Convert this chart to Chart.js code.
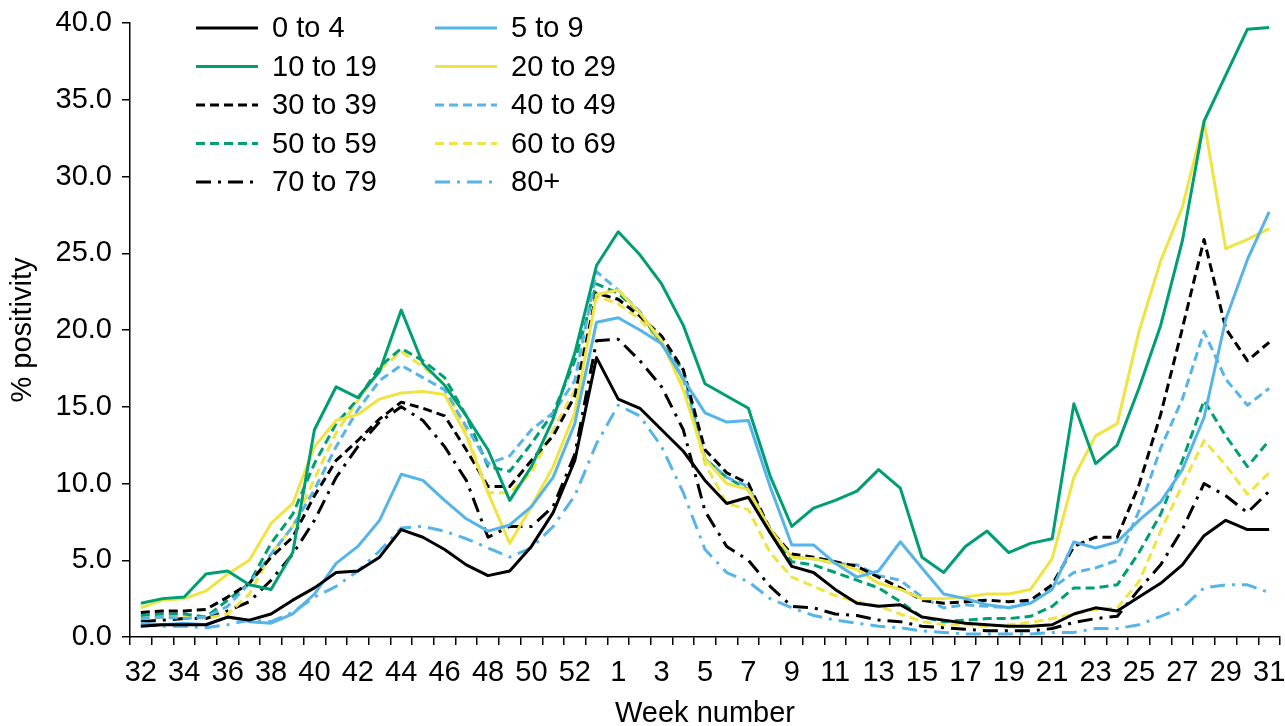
<!DOCTYPE html>
<html>
<head>
<meta charset="utf-8">
<script src="https://cdn.jsdelivr.net/npm/chart.js@4"></script>
<style>
  body { margin: 0; background: #fff; }
</style>
</head>
<body>
<canvas id="myChart" width="1285" height="726"></canvas>
<script>
// week numbers: 32..53 then 1..31
const weeks = ['32','33','34','35','36','37','38','39','40','41','42','43','44','45','46','47','48','49','50','51','52','53',
  '1','2','3','4','5','6','7','8','9','10','11','12','13','14','15','16','17','18','19','20','21','22','23','24','25','26','27','28','29','30','31'];

const age0to4 = [0.7,0.8,0.8,0.8,1.3,1.1,1.5,2.4,3.2,4.2,4.3,5.2,7.0,6.5,5.7,4.7,4.0,4.3,5.9,8.1,11.5,18.2,
  15.5,14.9,13.5,12.1,10.2,8.7,9.1,6.8,4.6,4.2,3.1,2.2,2.0,2.1,1.3,1.1,0.9,0.8,0.7,0.7,0.8,1.5,1.9,1.7,2.6,3.5,4.7,6.6,7.6,7.0,7.0];
const age5to9 = [0.9,0.8,0.9,0.8,1.3,1.0,0.9,1.5,2.8,4.8,5.9,7.6,10.6,10.2,8.9,7.7,6.9,7.3,8.5,10.4,13.9,20.5,
  20.8,20.0,19.1,16.8,14.6,14.0,14.1,9.8,6.0,6.0,4.8,3.9,4.3,6.2,4.5,2.8,2.5,2.1,1.9,2.2,3.1,6.2,5.8,6.2,7.6,8.8,10.9,14.3,20.7,24.6,27.7];
const age10to19 = [2.2,2.5,2.6,4.1,4.3,3.4,3.1,5.5,13.5,16.3,15.6,17.3,21.3,17.8,16.4,14.4,12.2,8.9,11.1,14.2,18.5,24.2,
  26.4,24.9,23.0,20.3,16.5,15.7,14.9,10.5,7.2,8.4,8.9,9.5,10.9,9.7,5.2,4.2,5.9,6.9,5.5,6.1,6.4,15.2,11.3,12.5,16.2,20.3,25.8,33.6,36.6,39.6,39.7];
const age20to29 = [1.9,2.4,2.5,3.0,4.1,5.0,7.4,8.7,12.4,14.1,14.5,15.5,15.9,16.0,15.8,13.1,9.4,6.1,8.5,11.1,14.6,22.3,
  22.6,21.1,19.3,16.1,11.6,10.0,9.6,7.0,5.2,5.1,4.8,4.4,3.5,3.1,2.5,2.5,2.6,2.8,2.8,3.1,5.1,10.4,13.1,13.9,19.9,24.5,28.0,33.6,25.3,25.9,26.6];
const age30to39 = [1.6,1.7,1.7,1.8,2.6,3.5,5.2,6.5,9.2,11.5,12.8,14.2,15.3,14.9,14.4,12.2,9.8,9.8,11.5,13.1,15.7,22.4,
  22.0,20.9,19.6,17.4,12.2,10.7,10.0,7.0,5.4,5.2,4.9,4.6,3.9,3.2,2.4,2.2,2.3,2.4,2.3,2.4,3.4,5.9,6.5,6.5,9.9,14.5,20.1,25.9,20.1,18.0,19.2];
const age40to49 = [1.2,1.3,1.2,1.3,2.0,3.5,5.4,7.2,9.6,12.4,14.8,16.7,17.7,16.9,16.1,13.7,11.3,11.8,13.5,14.6,16.7,23.8,
  22.6,21.2,19.1,16.9,11.6,10.4,9.8,7.0,5.2,5.1,4.8,4.7,4.0,3.7,2.6,1.9,2.1,2.0,1.9,2.3,3.2,4.2,4.5,5.0,8.2,12.3,15.5,19.9,16.8,15.1,16.2];
const age50to59 = [1.4,1.5,1.5,1.3,2.4,3.5,6.1,8.0,11.3,13.9,15.5,17.6,18.8,18.0,16.9,14.4,11.1,10.8,12.6,14.6,18.0,23.0,
  22.4,21.1,19.1,17.4,11.6,10.4,9.6,7.0,4.9,4.7,4.2,3.7,3.2,2.3,1.3,1.0,1.1,1.2,1.2,1.35,2.0,3.2,3.2,3.4,5.5,8.0,11.5,15.4,13.1,11.1,12.8];
const age60to69 = [1.2,1.3,1.3,1.2,1.5,2.8,5.4,7.2,10.3,13.3,15.4,17.4,18.6,17.6,16.5,13.3,9.4,9.4,10.7,13.5,16.1,22.2,
  21.7,20.7,19.1,16.5,11.3,8.7,8.3,5.5,3.9,3.3,2.7,2.3,2.0,1.5,1.0,0.8,0.8,0.7,0.8,0.95,1.2,1.5,1.8,1.9,3.6,6.9,9.9,12.8,11.2,9.3,10.7];
const age70to79 = [1.0,1.1,1.2,1.2,1.7,2.3,3.7,5.4,7.6,10.4,12.4,14.0,15.0,14.1,12.4,10.2,6.5,7.2,7.2,8.5,11.9,19.3,
  19.4,18.0,16.3,13.5,8.2,5.9,5.0,3.3,2.0,1.9,1.5,1.4,1.1,1.0,0.7,0.6,0.5,0.4,0.4,0.4,0.55,0.95,1.2,1.35,3.1,4.7,7.0,10.0,9.2,8.1,9.5];
const age80plus = [0.8,0.7,0.7,0.6,0.8,1.1,1.0,1.6,2.6,3.3,4.3,5.6,7.1,7.2,6.9,6.4,5.8,5.2,5.8,7.2,9.2,12.6,
  15.1,14.4,12.4,9.4,5.7,4.2,3.6,2.5,1.9,1.4,1.1,0.9,0.7,0.6,0.4,0.3,0.2,0.2,0.2,0.2,0.3,0.3,0.55,0.55,0.8,1.35,1.9,3.2,3.4,3.4,2.9];

const FONT = 'Arial, "Liberation Sans", sans-serif';
const SIZE = 29;
const BLACK = '#000000', BLUE = '#56B4E9', GREEN = '#009E73', YELLOW = '#F0E442';
const DASH = [9, 5];
const DASHDOT = [15, 7, 3, 7];

function line(label, data, color, dash) {
  return {
    label: label,
    data: data,
    borderColor: color,
    backgroundColor: color,
    borderWidth: 3,
    borderDash: dash,
    pointRadius: 0,
    tension: 0,
    fill: false,
    borderJoinStyle: 'round'
  };
}

// legend drawn inside the plot, 2 columns like the original
const insideLegend = {
  id: 'insideLegend',
  afterDraw(chart) {
    const ctx = chart.ctx;
    chart.data.datasets.forEach(function(ds, i) {
      const col = i % 2;
      const row = Math.floor(i / 2);
      const x = 196 + col * 239;
      const y = 28 + row * 38.5;
      ctx.save();
      ctx.strokeStyle = ds.borderColor;
      ctx.lineWidth = 3;
      ctx.setLineDash(ds.borderDash);
      ctx.beginPath();
      ctx.moveTo(x, y);
      ctx.lineTo(x + 62, y);
      ctx.stroke();
      ctx.setLineDash([]);
      ctx.fillStyle = '#000';
      ctx.font = SIZE + 'px ' + FONT;
      ctx.textBaseline = 'middle';
      ctx.fillText(ds.label, x + 76, y + 1);
      ctx.restore();
    });
  }
};

const data = {
  labels: weeks,
  datasets: [
    line('0 to 4', age0to4, BLACK, []),
    line('5 to 9', age5to9, BLUE, []),
    line('10 to 19', age10to19, GREEN, []),
    line('20 to 29', age20to29, YELLOW, []),
    line('30 to 39', age30to39, BLACK, DASH),
    line('40 to 49', age40to49, BLUE, DASH),
    line('50 to 59', age50to59, GREEN, DASH),
    line('60 to 69', age60to69, YELLOW, DASH),
    line('70 to 79', age70to79, BLACK, DASHDOT),
    line('80+', age80plus, BLUE, DASHDOT)
  ]
};

const config = {
  type: 'line',
  data: data,
  plugins: [insideLegend],
  options: {
    responsive: false,
    animation: false,
    layout: { padding: { top: 23, right: 5, left: 0, bottom: 0 } },
    plugins: {
      legend: { display: false },
      tooltip: { enabled: false }
    },
    scales: {
      x: {
        offset: true,
        grid: { offset: true, drawOnChartArea: false, tickLength: 8, color: '#000', lineWidth: 1.5 },
        border: { color: '#000', width: 1.5 },
        ticks: {
          autoSkip: false, maxRotation: 0, minRotation: 0, color: '#000', padding: 11,
          font: { family: FONT, size: SIZE },
          callback: function(v, i) { return i % 2 === 0 ? this.getLabelForValue(v) : ''; }
        },
        title: { display: true, text: 'Week number', color: '#000', font: { family: FONT, size: SIZE, lineHeight: 0.85 }, padding: { top: 0, bottom: 0 } },
        afterFit: function(scale) {
          scale.height = 89;
          scale.paddingLeft = 0;
          scale.paddingRight = 0;
        }
      },
      y: {
        min: 0, max: 40,
        grid: { drawOnChartArea: false, tickLength: 8, color: '#000', lineWidth: 1.5 },
        border: { color: '#000', width: 1.5 },
        ticks: {
          stepSize: 5, color: '#000', padding: 10,
          font: { family: FONT, size: SIZE },
          callback: function(v) { return v.toFixed(1); }
        },
        title: { display: true, text: '% positivity', color: '#000', font: { family: FONT, size: SIZE }, padding: { top: 6, bottom: 0 } },
        afterFit: function(scale) {
          scale.width = 130;
          scale.paddingTop = 0;
          scale.paddingBottom = 0;
        }
      }
    }
  }
};

const myChart = new Chart(document.getElementById('myChart').getContext('2d'), config);
</script>
</body>
</html>
